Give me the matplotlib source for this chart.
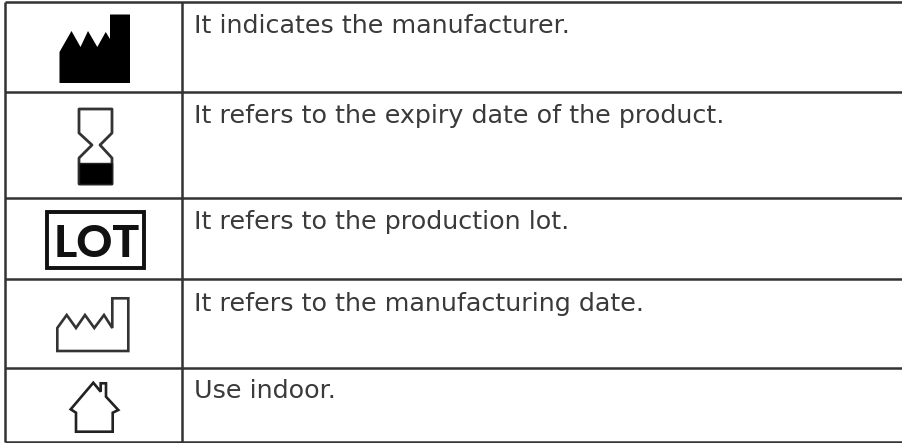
"""Symbol legend table, drawn on a pixel-sized axes."""

import matplotlib
matplotlib.use('Agg')
import matplotlib.pyplot as plt
from matplotlib.patches import Polygon, Rectangle

DESCRIPTIONS = [
    "It indicates the manufacturer.",
    "It refers to the expiry date of the product.",
    "It refers to the production lot.",
    "It refers to the manufacturing date.",
    "Use indoor.",
]
TEXT_BASELINES = [33, 123, 229, 311, 398]
ROW_LINES = [2, 92, 198, 279, 368, 442]
COL_LINES = [5, 182]
TABLE_RIGHT = 902

FACTORY = [(59.5, 83), (59.5, 52), (71.5, 31), (80.5, 47), (88, 31), (97.3, 47),
           (105.7, 32), (110, 39), (110, 14.5), (130, 14.5), (130, 83)]
HOURGLASS = [(79, 109), (112, 109), (112, 133), (100, 145), (112, 158), (112, 184),
             (79, 184), (79, 158), (92, 145), (79, 133)]
HOURGLASS_SAND = [(79, 163), (112, 163), (112, 184), (79, 184)]
FACTORY_OUTLINE = [(57.3, 351), (57.3, 328), (66.7, 315), (76, 328), (85, 315),
                   (94.3, 328), (104, 315), (112.3, 328), (112.3, 298.3),
                   (128.3, 298.3), (128.3, 351)]
HOUSE = [(93.3, 382.7), (70.7, 409.3), (76, 412.7), (76, 431.7), (112.7, 431.7),
         (112.7, 412.7), (118.3, 410), (106, 396.7), (106, 383.3), (100.7, 383.3),
         (100.7, 391.7)]

LINE_COLOR = "#333333"
TEXT_COLOR = "#3a3a3a"

fig = plt.figure(figsize=(9.02, 4.43), dpi=100)
ax = fig.add_axes([0, 0, 1, 1])
ax.set_xlim(0, 902)
ax.set_ylim(443, 0)
ax.axis('off')

# Table grid
for y in ROW_LINES:
    ax.plot([COL_LINES[0], TABLE_RIGHT], [y, y], color=LINE_COLOR, lw=1.8, solid_capstyle='butt')
for x in COL_LINES:
    ax.plot([x, x], [ROW_LINES[0], ROW_LINES[-1]], color=LINE_COLOR, lw=1.8, solid_capstyle='butt')

# Descriptions
for label, y in zip(DESCRIPTIONS, TEXT_BASELINES):
    ax.text(194, y, label, fontsize=18.25, family="DejaVu Sans", color=TEXT_COLOR,
            ha='left', va='baseline')

# Icons
ax.add_patch(Polygon(FACTORY, closed=True, fc='black', ec='none'))
ax.add_patch(Polygon(HOURGLASS, closed=True, fc='white', ec='#333333', lw=2.0, joinstyle='round'))
ax.add_patch(Polygon(HOURGLASS_SAND, closed=True, fc='black', ec='#222222', lw=1))
ax.add_patch(Rectangle((46.5, 211.5), 97, 56, fc='white', ec='#111111', lw=2.8))
ax.text(97, 257, "LOT", fontsize=32, family="Lato", weight='black', color='#111111',
        ha='center', va='baseline')
ax.add_patch(Polygon(FACTORY_OUTLINE, closed=True, fc='white', ec='#333333', lw=1.9))
ax.add_patch(Polygon(HOUSE, closed=True, fc='white', ec='#222222', lw=1.9))

fig.savefig("out.png", dpi=100)
plt.close(fig)
